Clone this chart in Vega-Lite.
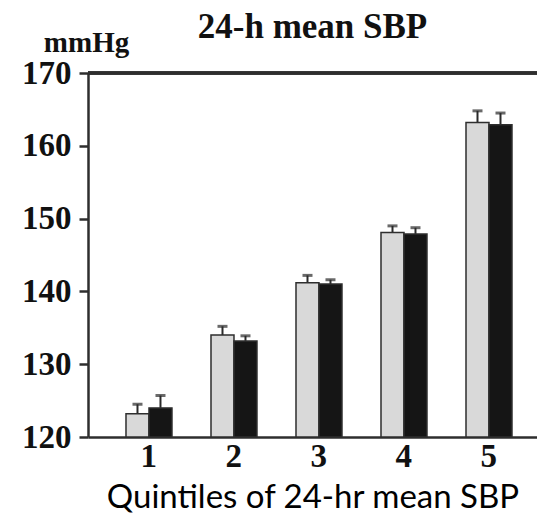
{
  "$schema": "https://vega.github.io/schema/vega-lite/v6.json",
  "autosize": {"type": "none"},
  "width": 449,
  "height": 364,
  "padding": {"left": 88, "top": 73, "right": 0, "bottom": 80},
  "background": "white",
  "title": {
    "text": "24-h mean SBP",
    "font": "Liberation Serif",
    "fontWeight": "bold",
    "fontSize": 35,
    "color": "#111111",
    "anchor": "middle",
    "frame": "group",
    "offset": 4,
    "dy": 21
  },
  "data": {
    "values": [
      {"quintile": "1", "group": "A", "mean": 123.2, "upper": 124.5},
      {"quintile": "1", "group": "B", "mean": 124.0, "upper": 125.7},
      {"quintile": "2", "group": "A", "mean": 134.0, "upper": 135.2},
      {"quintile": "2", "group": "B", "mean": 133.2, "upper": 133.9},
      {"quintile": "3", "group": "A", "mean": 141.2, "upper": 142.2},
      {"quintile": "3", "group": "B", "mean": 141.0, "upper": 141.6},
      {"quintile": "4", "group": "A", "mean": 148.1, "upper": 149.0},
      {"quintile": "4", "group": "B", "mean": 147.9, "upper": 148.75},
      {"quintile": "5", "group": "A", "mean": 163.2, "upper": 164.8},
      {"quintile": "5", "group": "B", "mean": 162.9, "upper": 164.5}
    ]
  },
  "layer": [
    {
      "mark": {"type": "rule", "color": "#2a2a2a", "strokeWidth": 2},
      "encoding": {
        "x": {"field": "quintile", "type": "nominal"},
        "xOffset": {"field": "group", "type": "nominal"},
        "y": {"field": "mean", "type": "quantitative"},
        "y2": {"field": "upper"}
      }
    },
    {
      "mark": {"type": "tick", "orient": "horizontal", "size": 10, "thickness": 3, "color": "#2a2a2a"},
      "encoding": {
        "x": {"field": "quintile", "type": "nominal"},
        "xOffset": {"field": "group", "type": "nominal"},
        "y": {"field": "upper", "type": "quantitative"}
      }
    },
    {
      "mark": {"type": "bar", "stroke": "#2e2e2e", "strokeWidth": 1.5},
      "encoding": {
        "x": {
          "field": "quintile",
          "type": "nominal",
          "scale": {"type": "band", "paddingInner": 0.459, "paddingOuter": 0.3706, "align": 0.603},
          "axis": {
            "title": "Quintiles of 24-hr mean SBP",
            "labelAngle": 0,
            "labelFont": "Liberation Serif",
            "labelFontWeight": "bold",
            "labelFontSize": 33,
            "labelColor": "#111111",
            "labelPadding": 19,
            "labelOffset": 8,
            "ticks": false,
            "tickSize": 0,
            "domainColor": "#2e2e2e",
            "domainWidth": 2.5,
            "titleFont": "Lato",
            "titleFontWeight": "normal",
            "titleFontSize": 33,
            "titleColor": "#000000",
            "titleBaseline": "alphabetic",
            "titleY": 70
          }
        },
        "xOffset": {
          "field": "group",
          "type": "nominal",
          "scale": {"paddingInner": 0, "paddingOuter": 0}
        },
        "y": {
          "field": "mean",
          "type": "quantitative",
          "scale": {"domain": [120, 170], "zero": false, "nice": false},
          "axis": {
            "values": [120, 130, 140, 150, 160, 170],
            "grid": false,
            "title": "mmHg",
            "titleAngle": 0,
            "titleAlign": "center",
            "titleBaseline": "alphabetic",
            "titleX": -2,
            "titleY": -22,
            "titleFont": "Liberation Serif",
            "titleFontWeight": "bold",
            "titleFontSize": 29,
            "titleColor": "#111111",
            "labelFont": "Liberation Serif",
            "labelFontWeight": "bold",
            "labelFontSize": 33,
            "labelColor": "#111111",
            "labelPadding": 8,
            "tickSize": 9,
            "tickWidth": 2.5,
            "tickColor": "#2e2e2e",
            "domainColor": "#2e2e2e",
            "domainWidth": 2.5
          }
        },
        "y2": {"datum": 120},
        "fill": {
          "field": "group",
          "type": "nominal",
          "scale": {"domain": ["A", "B"], "range": ["#d9d9d9", "#151515"]},
          "legend": null
        }
      }
    },
    {
      "mark": {"type": "rule", "color": "#2e2e2e", "strokeWidth": 2.5},
      "encoding": {"y": {"datum": 170}}
    }
  ],
  "config": {"view": {"stroke": null}}
}
